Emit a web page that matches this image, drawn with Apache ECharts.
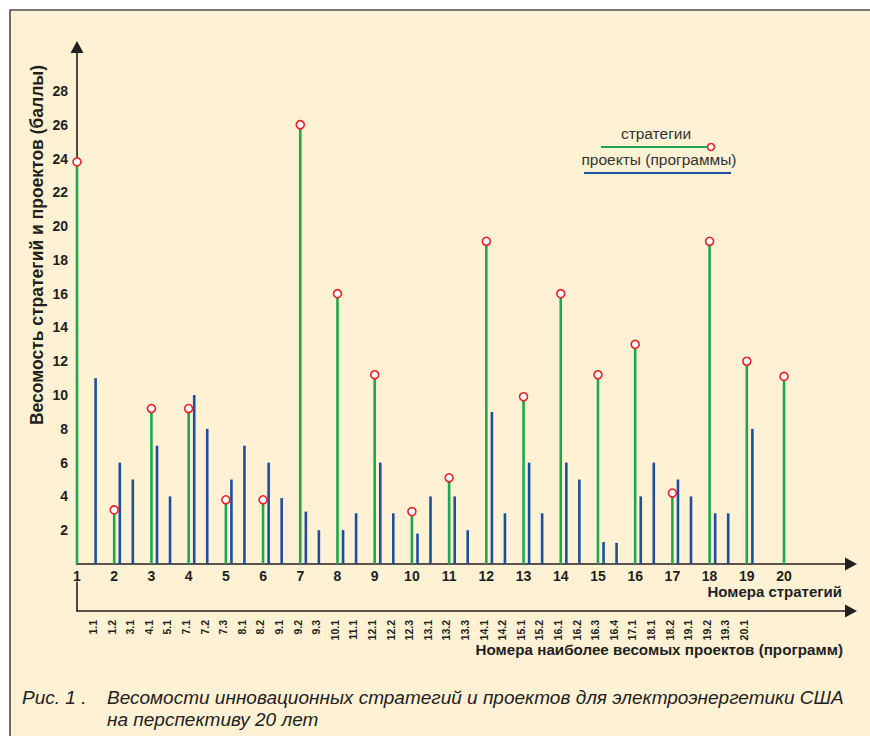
<!DOCTYPE html>
<html>
<head>
<meta charset="utf-8">
<script src="https://cdn.jsdelivr.net/npm/echarts@6/dist/echarts.min.js"></script>
<style>
html,body{margin:0;padding:0;background:#ffffff;}
#chart{width:870px;height:736px;}
</style>
</head>
<body>
<div id="chart"></div>
<script>
// ---- data ----
const strategyNums = [1,2,3,4,5,6,7,8,9,10,11,12,13,14,15,16,17,18,19,20];
const strategyValues = [23.8,3.2,9.2,9.2,3.8,3.8,26,16,11.2,3.1,5.1,19.1,9.9,16,11.2,13,4.2,19.1,12,11.1];
const projectLabels = ['1.1','1.2','3.1','4.1','5.1','7.1','7.2','7.3','8.1','8.2','9.1','9.2','9.3','10.1','11.1','12.1','12.2','12.3','13.1','13.2','13.3','14.1','14.2','15.1','15.2','16.1','16.2','16.3','16.4','17.1','18.1','18.2','19.1','19.2','19.3','20.1'];
const projectPos = [1.5,2.15,2.5,3.15,3.5,4.15,4.5,5.15,5.5,6.15,6.5,7.15,7.5,8.15,8.5,9.15,9.5,10.15,10.5,11.15,11.5,12.15,12.5,13.15,13.5,14.15,14.5,15.15,15.5,16.15,16.5,17.15,17.5,18.15,18.5,19.15];
const projectValues = [11,6,5,7,4,10,8,5,7,6,3.9,3.1,2,2,3,6,3,1.8,4,4,2,9,3,6,3,6,5,1.3,1.25,4,6,5,4,3,3,8];
const yTicks = [2,4,6,8,10,12,14,16,18,20,22,24,26,28];

const GREEN = '#1fa84b';
const BLUE = '#1d4f9f';
const RED = '#e8202a';
const BG = '#fef1d4';
const INK = '#231f20';
const FF = '"Liberation Sans", Arial, sans-serif';

const strategyData = strategyNums.map((n,i)=>[n, strategyValues[i]]);
const projectData = projectPos.map((p,i)=>[p, projectValues[i], projectLabels[i]]);

function stem(color){
  return function(params, api){
    const x = api.value(0), y = api.value(1);
    const p0 = api.coord([x,0]);
    const p1 = api.coord([x,y]);
    return {type:'line', shape:{x1:p0[0],y1:p0[1],x2:p1[0],y2:p1[1]}, style:{stroke:color,lineWidth:2.6}};
  };
}

const chart = echarts.init(document.getElementById('chart'), null, {renderer:'svg'});
const axisFont = {fontFamily:FF, fontWeight:'bold', color:INK};

chart.setOption({
  backgroundColor:'#ffffff',
  animation:false,
  graphic:[
    {type:'rect', z:-10, shape:{x:10,y:10,width:900,height:800}, style:{fill:BG, stroke:'#4d4d4d', lineWidth:1.6}},
    {type:'text', x:37, y:245, rotation:Math.PI/2, style:{text:'Весомость стратегий и проектов (баллы)', fontSize:17.5, fontWeight:'bold', fontFamily:FF, fill:INK, textAlign:'center', textVerticalAlign:'middle'}},
    {type:'text', x:842, y:591, style:{text:'Номера стратегий', fontSize:15, fontWeight:'bold', fontFamily:FF, fill:INK, textAlign:'right', textVerticalAlign:'middle'}},
    {type:'text', x:843, y:649, style:{text:'Номера наиболее весомых проектов (программ)', fontSize:15.2, fontWeight:'bold', fontFamily:FF, fill:INK, textAlign:'right', textVerticalAlign:'middle'}},
    // legend
    {type:'text', x:656, y:133, style:{text:'стратегии', fontSize:15.5, fontFamily:FF, fill:'#333', textAlign:'center', textVerticalAlign:'middle'}},
    {type:'line', shape:{x1:601,y1:147,x2:707,y2:147}, style:{stroke:GREEN,lineWidth:2.2}},
    {type:'circle', shape:{cx:711,cy:147,r:3.5}, style:{fill:'#fff',stroke:RED,lineWidth:1.6}},
    {type:'text', x:659, y:159, style:{text:'проекты (программы)', fontSize:15.5, fontFamily:FF, fill:'#333', textAlign:'center', textVerticalAlign:'middle'}},
    {type:'line', shape:{x1:584,y1:173,x2:731,y2:173}, style:{stroke:BLUE,lineWidth:2.2}},
    // caption
    {type:'text', x:22, y:697, style:{text:'Рис. 1 .', fontSize:19, fontStyle:'italic', fontFamily:FF, fill:'#222', textVerticalAlign:'middle'}},
    {type:'text', x:107, y:697, style:{text:'Весомости инновационных стратегий и проектов для электроэнергетики США', fontSize:19, fontStyle:'italic', fontFamily:FF, fill:'#222', textVerticalAlign:'middle'}},
    {type:'text', x:107, y:719, style:{text:'на перспективу 20 лет', fontSize:19, fontStyle:'italic', fontFamily:FF, fill:'#222', textVerticalAlign:'middle'}}
  ],
  grid:[
    {left:77, top:47, width:774, height:517},
    {left:77, top:582, width:774, height:29},
    {left:83.7, top:610, width:669.6, height:1}
  ],
  xAxis:[
    {gridIndex:0, type:'value', min:1, max:21.8, interval:1, splitLine:{show:false},
     axisLine:{lineStyle:{color:INK,width:1.6}, symbol:['none','triangle'], symbolSize:[13,12]},
     axisTick:{show:false},
     axisLabel:Object.assign({fontSize:14, margin:5, formatter:v=> (strategyNums.indexOf(v)>=0 ? String(v) : ''), showMaxLabel:false}, axisFont)},
    {gridIndex:1, type:'value', min:1, max:21.8, splitLine:{show:false},
     axisLine:{lineStyle:{color:INK,width:1.6}, symbol:['none','triangle'], symbolSize:[13,12]},
     axisTick:{show:false}, axisLabel:{show:false}},
    {gridIndex:2, type:'category', data:projectLabels, boundaryGap:true,
     axisLine:{show:false}, axisTick:{show:false},
     axisLabel:{rotate:90, fontSize:10.5, margin:9, interval:0, fontFamily:FF, fontWeight:'bold', color:INK}}
  ],
  yAxis:[
    {gridIndex:0, type:'value', min:0, max:30.6, interval:2, splitLine:{show:false},
     axisLine:{show:true, lineStyle:{color:INK,width:1.6}, symbol:['none','triangle'], symbolSize:[13,12]},
     axisTick:{show:false},
     axisLabel:Object.assign({fontSize:14, margin:9, showMaxLabel:false, formatter:v=> (yTicks.indexOf(v)>=0 ? String(v) : '')}, axisFont)},
    {gridIndex:1, type:'value', min:0, max:1, axisLine:{show:true, lineStyle:{color:INK,width:1.6}}, axisTick:{show:false}, axisLabel:{show:false}, splitLine:{show:false}},
    {gridIndex:2, type:'value', show:false}
  ],
  series:[
    {name:'проекты (программы)', type:'custom', xAxisIndex:0, yAxisIndex:0, data:projectData, renderItem:stem(BLUE), z:2},
    {name:'стратегии', type:'custom', xAxisIndex:0, yAxisIndex:0, data:strategyData, renderItem:stem(GREEN), z:3},
    {name:'стратегии', type:'scatter', xAxisIndex:0, yAxisIndex:0, data:strategyData, symbol:'circle', symbolSize:8,
     itemStyle:{color:'#ffffff', borderColor:RED, borderWidth:1.6, opacity:1}, z:5, emphasis:{disabled:true}}
  ]
});
</script>
</body>
</html>
